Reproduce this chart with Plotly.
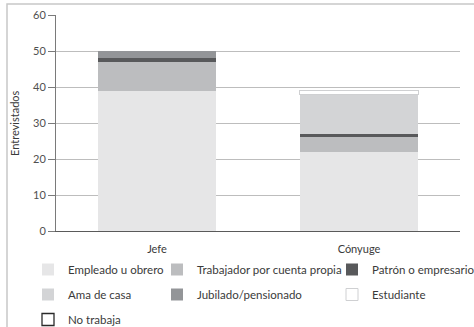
import plotly.graph_objects as go

# Respondent role (x categories)
categories = ["Jefe", "Cónyuge"]

# Occupation of respondents, stacked bottom to top
empleado = [39, 22]
trabajador = [8, 4]
patron = [1, 1]
ama_de_casa = [0, 11]
jubilado = [2, 0]
estudiante = [0, 1]
no_trabaja = [0, 0]

y_ticks = [0, 10, 20, 30, 40, 50, 60]

FONT = "Lato"
TEXT = "#3a3a3a"

series = [
    ("Empleado u obrero", empleado, "#e6e6e7", None, 0, "legend"),
    ("Trabajador por cuenta propia", trabajador, "#bcbdbf", None, 0, "legend2"),
    ("Patrón o empresario", patron, "#58595b", None, 0, "legend3"),
    ("Ama de casa", ama_de_casa, "#d3d4d6", None, 0, "legend"),
    ("Jubilado/pensionado", jubilado, "#939598", None, 0, "legend2"),
    ("Estudiante", estudiante, "#ffffff", "#cfd0d2", 1, "legend3"),
    ("No trabaja", no_trabaja, "#ffffff", "#2a2a2a", 1.3, "legend"),
]

fig = go.Figure()
for name, vals, fill, line_col, line_w, leg in series:
    # empty segments are skipped so outlined series leave no stray edge
    ys = [v if v else None for v in vals]
    fig.add_trace(go.Bar(
        x=categories, y=ys, name=name,
        legend=leg, legendgroup=name,
        marker=dict(color=fill,
                    line=dict(color=line_col or fill, width=line_w)),
        hoverinfo="skip",
    ))

def legend_at(px, py):
    return dict(
        x=px / 474, y=1 - py / 327, xanchor="left", yanchor="top",
        xref="container", yref="container",
        orientation="v", traceorder="grouped", tracegroupgap=6,
        font=dict(family=FONT, size=11.5, color=TEXT),
        bgcolor="rgba(0,0,0,0)", borderwidth=0,
    )

fig.update_layout(
    width=474, height=327,
    margin=dict(l=56, r=14, t=15, b=96, autoexpand=False),
    paper_bgcolor="white", plot_bgcolor="white",
    barmode="stack", bargap=0.415,
    font=dict(family=FONT, size=10, color=TEXT),
    showlegend=True,
    legend=legend_at(28, 255),
    legend2=legend_at(157, 255),
    legend3=legend_at(332, 255),
    xaxis=dict(
        type="category", showline=True, linecolor="#5a5a5a", linewidth=1,
        ticks="outside", ticklen=8, tickcolor="rgba(0,0,0,0)",
        tickfont=dict(family=FONT, size=11, color=TEXT),
        showgrid=False, zeroline=False,
    ),
    yaxis=dict(
        range=[0, 60], tickvals=y_ticks,
        showline=True, linecolor="#7a7a7a", linewidth=1,
        ticks="outside", ticklen=7, tickcolor="#7a7a7a", tickwidth=1,
        tickfont=dict(family=FONT, size=11, color="#505050"),
        showgrid=True, gridcolor="#bdbdbd", gridwidth=1,
        zeroline=False,
    ),
    annotations=[dict(
        text="Entrevistados", textangle=-90, showarrow=False,
        xref="paper", yref="paper", x=(14 - 56) / 404, y=0.5,
        xanchor="center", yanchor="middle",
        font=dict(family=FONT, size=11, color=TEXT),
    )],
    shapes=[dict(
        type="rect", xref="paper", yref="paper", layer="below",
        x0=(7 - 56) / 404, x1=(480 - 56) / 404,
        y0=(231 - 340) / 216, y1=(231 - 4) / 216,
        line=dict(color="#c8c8c8", width=1.5), fillcolor="rgba(0,0,0,0)",
    )],
)

fig.write_html("out.html")
